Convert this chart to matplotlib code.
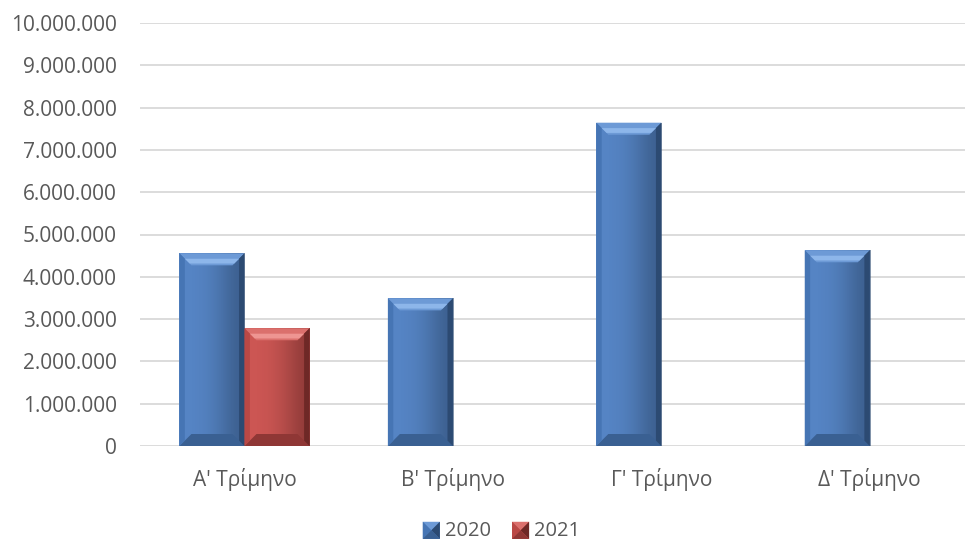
import numpy as np
import matplotlib
matplotlib.use('Agg')
import matplotlib.pyplot as plt
from matplotlib.patches import Polygon, Rectangle
from matplotlib.legend_handler import HandlerBase
from matplotlib.ticker import FuncFormatter, MultipleLocator

plt.rcParams['font.family'] = ['Open Sans', 'DejaVu Sans']

# data
quarters = ["Α' Τρίμηνο", "Β' Τρίμηνο", "Γ' Τρίμηνο", "Δ' Τρίμηνο"]
series_names = ['2020', '2021']
values_2020 = [4555000, 3490000, 7643000, 4627000]
values_2021 = [2783000, np.nan, np.nan, np.nan]

# colour sets: face, top, highlight, left, right, bottom
palettes = {
    '2020': dict(face='#5584C4', top='#6D9AD6', hi='#8DB6EA', left='#4675B4', right='#2C4A72', bottom='#3A6092'),
    '2021': dict(face='#CC5653', top='#DB706D', hi='#EE9592', left='#BA4845', right='#6E2826', bottom='#8F3735'),
}

W, H = 965, 541
fig = plt.figure(figsize=(W / 100, H / 100), dpi=100)
left_px, right_px = 140.25, 974.0
zero_px, top_px = 446.0, 23.0
ax = fig.add_axes([left_px / W, (H - zero_px) / H,
                   (right_px - left_px) / W, (zero_px - top_px) / H])

ax.set_xlim(-0.5, len(quarters) - 0.5)
ax.set_ylim(0, 10000000)
ax.yaxis.set_major_locator(MultipleLocator(1000000))
ax.yaxis.set_major_formatter(FuncFormatter(lambda v, p: f'{int(v):,}'.replace(',', '.')))
ax.grid(axis='y', color='#D9D9D9', linewidth=1.3)
ax.set_axisbelow(True)
for s in ax.spines.values():
    s.set_visible(False)
ax.tick_params(axis='both', length=0, colors='#595959', labelsize=15)
ax.tick_params(axis='y', pad=17)
ax.tick_params(axis='x', pad=16)
ax.set_xticks(range(len(quarters)))
ax.set_xticklabels(quarters)

bar_w = 0.312
x = np.arange(len(quarters))

# pixel sizes in data units
px_x = (len(quarters)) / (right_px - left_px)
px_y = 10000000 / (zero_px - top_px)
bev = 12


def bevel_bar(xc, h, pal):
    x0, x1 = xc - bar_w / 2, xc + bar_w / 2
    y0, y1 = 0, h
    bx = bev * px_x
    by = min(bev * px_y, h / 2)
    ax.add_patch(Rectangle((x0, y0), x1 - x0, y1 - y0, facecolor=pal['face'],
                           edgecolor='none', zorder=3))
    # soft dark gradient towards right edge
    grad = np.linspace(0, 1, 100)[None, :] ** 3
    cmap = matplotlib.colors.LinearSegmentedColormap.from_list(
        'g', [(0, 0, 0, 0), matplotlib.colors.to_rgba(pal['right'], 0.6)])
    im = ax.imshow(grad, cmap=cmap, extent=(x0, x1, y0, y1), aspect='auto',
                   zorder=3.1, interpolation='bilinear')
    clip = Rectangle((x0, y0), x1 - x0, y1 - y0, transform=ax.transData)
    im.set_clip_path(clip)
    ax.add_patch(Polygon([(x0, y1), (x1, y1), (x1 - bx, y1 - by), (x0 + bx, y1 - by)],
                         closed=True, facecolor=pal['top'], edgecolor='none', zorder=3.2))
    # lighter stripe near the inner edge of the top bevel
    f = 0.45
    ax.add_patch(Polygon([(x0 + bx * f, y1 - by * f), (x1 - bx * f, y1 - by * f),
                          (x1 - bx * 0.85, y1 - by * 0.85), (x0 + bx * 0.85, y1 - by * 0.85)],
                         closed=True, facecolor=pal['hi'], edgecolor='none', zorder=3.25))
    ax.add_patch(Polygon([(x0, y0), (x1, y0), (x1 - bx, y0 + by), (x0 + bx, y0 + by)],
                         closed=True, facecolor=pal['bottom'], edgecolor='none', zorder=3.2))
    ax.add_patch(Polygon([(x0, y0), (x0, y1), (x0 + bx * 0.45, y1 - by * 0.45), (x0 + bx * 0.45, y0 + by * 0.45)],
                         closed=True, facecolor=pal['left'], edgecolor='none', zorder=3.3))
    ax.add_patch(Polygon([(x1, y0), (x1, y1), (x1 - bx * 0.45, y1 - by * 0.45), (x1 - bx * 0.45, y0 + by * 0.45)],
                         closed=True, facecolor=pal['right'], edgecolor='none', zorder=3.3))


for xi, v in zip(x, values_2020):
    if not np.isnan(v):
        bevel_bar(xi - bar_w / 2, v, palettes['2020'])
for xi, v in zip(x, values_2021):
    if not np.isnan(v):
        bevel_bar(xi + bar_w / 2, v, palettes['2021'])


class BevelHandler(HandlerBase):
    def __init__(self, pal):
        super().__init__()
        self.pal = pal

    def create_artists(self, legend, orig_handle, xdescent, ydescent, width, height, fontsize, trans):
        s = fontsize * 0.85
        x0 = -xdescent + width - s
        y0 = -ydescent + (height - s) / 2 - 1
        c = (x0 + s / 2, y0 + s / 2)
        p = self.pal
        arts = [
            Rectangle((x0, y0), s, s, facecolor=p['face']),
            Polygon([(x0, y0 + s), (x0 + s, y0 + s), c], closed=True, facecolor=p['top']),
            Polygon([(x0, y0), (x0, y0 + s), c], closed=True, facecolor=p['left']),
            Polygon([(x0 + s, y0), (x0 + s, y0 + s), c], closed=True, facecolor=p['right']),
            Polygon([(x0, y0), (x0 + s, y0), c], closed=True, facecolor=p['bottom']),
        ]
        for a in arts:
            a.set_edgecolor('none')
            a.set_transform(trans)
        return arts


handles = [Rectangle((0, 0), 1, 1) for _ in series_names]
leg = fig.legend(handles, series_names, loc='center', bbox_to_anchor=(501 / W, 1 - 531 / H),
                 ncol=2, frameon=False, fontsize=14.5, labelcolor='#595959',
                 handlelength=0.9, handletextpad=0.25, columnspacing=1.0,
                 handler_map={handles[0]: BevelHandler(palettes['2020']),
                              handles[1]: BevelHandler(palettes['2021'])})

fig.savefig('out.png', dpi=100, facecolor='white')
